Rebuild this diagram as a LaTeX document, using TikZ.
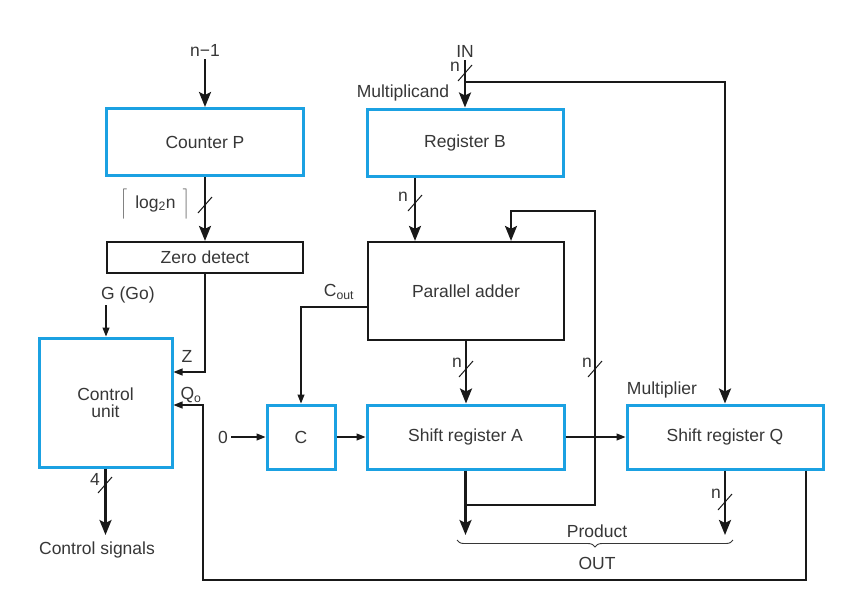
\documentclass[tikz,border=0pt]{standalone}
\usepackage{fontspec}
\setmainfont{Liberation Sans}
\usetikzlibrary{arrows.meta,decorations.pathreplacing}
\definecolor{regblue}{RGB}{27,161,226}
\definecolor{txt}{RGB}{55,55,55}
\definecolor{ln}{RGB}{25,25,25}
\begin{document}
\begin{tikzpicture}[x=1pt,y=-1pt,
  font=\fontsize{17.5}{20}\selectfont, text=txt,
  reg/.style={draw=regblue,line width=3pt,inner sep=0pt,text=txt},
  blk/.style={draw=ln,line width=2.2pt,inner sep=0pt},
  lbl/.style={inner sep=0pt,text=txt},
  tlbl/.style={inner sep=3pt,text=txt},
  bus/.style={draw=ln,line width=2.4pt,-{Stealth[length=15pt,width=12pt,inset=3pt]}},
  sig/.style={draw=ln,line width=1.1pt,-{Triangle[length=9pt,width=7pt]}},
  slashln/.style={draw=ln,line width=1pt},
]
\useasboundingbox[fill=white] (0,0) rectangle (843,611);

% boxes
\node[reg, minimum width=197pt, minimum height=67pt] (cp) at (205,142) {Counter P};
\node[blk, minimum width=196pt, minimum height=31pt] (zd) at (205,257.5) {Zero detect};
\node[reg, minimum width=133pt, minimum height=129pt, align=center] (cu) at (105.5,402.5) {Control\\[-3pt]unit};
\node[reg, minimum width=68pt, minimum height=64pt] (c) at (301,437) {C};
\node[reg, minimum width=196pt, minimum height=67pt] (rb) at (465,142.5) {Register B};
\node[blk, minimum width=196pt, minimum height=98pt] (pa) at (466,291) {Parallel adder};
\node[reg, minimum width=197pt, minimum height=64pt] (sa) at (465.5,437) {Shift register A};
\node[reg, minimum width=196pt, minimum height=64pt] (sq) at (725,437) {Shift register Q};

% text labels
\node[tlbl] (nm1) at (205,50) {n−1};
\node[tlbl] (in) at (465,51) {IN};
\node[lbl] (nin) at (455,67) {n};
\node[lbl] (mcand) at (403,93) {Multiplicand};
\node[lbl] (logl) at (155,204) {$\left\lceil\rule[-9pt]{0pt}{27pt}\right.$\hspace{7pt}log\textsubscript{2}n\hspace{6pt}$\left.\rule[-9pt]{0pt}{27pt}\right\rceil$};
\node[lbl, anchor=west] (g) at (101,295) {G (Go)};
\node[lbl] (z) at (187,356) {Z};
\node[lbl] (qo) at (191,395) {Q\textsubscript{o}};
\node[lbl] (four) at (95,479) {4};
\node[lbl] (cs) at (97,550) {Control signals};
\node[tlbl] (zero) at (223,437) {0};
\node[lbl] (cout) at (339,292) {C\textsubscript{out}};
\node[lbl] (nb) at (403,197) {n};
\node[lbl] (na) at (457,363) {n};
\node[lbl] (nf) at (587,363) {n};
\node[lbl] (nq) at (716,494) {n};
\node[lbl] (mplier) at (662,390) {Multiplier};
\node[lbl] (prod) at (597,531) {Product};
\node[lbl] (out) at (597,563) {OUT};

% coordinates
\coordinate (br) at (465,82);
\coordinate (fb) at (465.5,505);
\coordinate (fbtop) at (595,211);
\coordinate (prodA) at (465.5,535);
\coordinate (prodQ) at (725,535);
\coordinate (qbl) at (203,580);
\coordinate (gtop) at (106,305);
\coordinate (csup) at (105.5,535);

% left column
\draw[bus] (nm1) -- (cp);
\draw[bus] (cp) -- (zd);
\draw[sig] (zd.south) |- (cu.east |- 0,372);
\draw[sig] (gtop) -- (cu.north -| gtop);
\draw[bus] (cu.south) -- (csup);
\draw[sig] (sq.south -| 806,0) |- (qbl) |- (cu.east |- 0,405);

% middle row
\draw[sig] (zero) -- (c);
\draw[sig] (c) -- (sa);
\draw[sig] (sa) -- (sq);
\draw[sig] (pa.west |- 0,307) -| (c.north);

% data paths
\draw[bus] (in) -- (rb.north -| in);
\draw[bus] (br) -| (sq.north);
\draw[bus] (rb.south -| 415,0) -- (pa.north -| 415,0);
\draw[bus] (pa.south) -- (pa.south |- sa.north);
\draw[bus] (sa.south) -- (prodA);
\draw[bus] (fb) -| (fbtop) -| (pa.north -| 511,0);
\draw[bus] (sq.south) -- (prodQ);

% bus slashes
\draw[slashln] (198,213) -- (212,197);
\draw[slashln] (408,211) -- (422,195);
\draw[slashln] (458,81) -- (472,65);
\draw[slashln] (459,377) -- (473,361);
\draw[slashln] (588,377) -- (602,361);
\draw[slashln] (718,510) -- (732,494);
\draw[slashln] (98,493) -- (112,477);

% brace
\draw[decorate,decoration={brace,mirror,amplitude=7pt},line width=0.9pt,draw=txt] (457,540) -- (733,540);
\end{tikzpicture}
\end{document}
